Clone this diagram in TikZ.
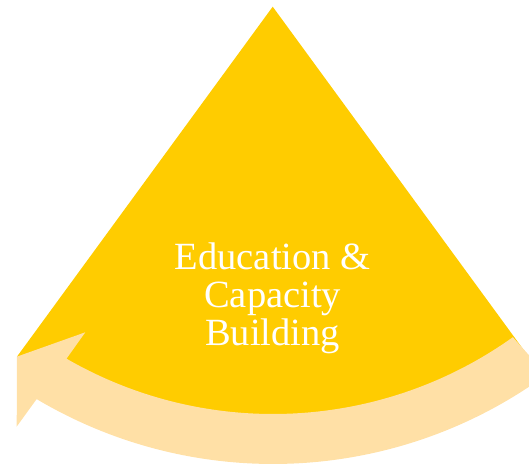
\documentclass[tikz,border=0pt]{standalone}
\usepackage{fontspec}
\setmainfont{Liberation Serif}
\usepackage{tikz}
\usepackage{color}
\definecolor{gold}{HTML}{FFCC00}
\definecolor{paleorange}{HTML}{FFE0A6}

\begin{document}
\begin{tikzpicture}[x=1pt,y=1pt]
    \useasboundingbox (0,0) rectangle (529,466);
    \clip (0,0) rectangle (529,466);
    \coordinate (c) at (273,465);
    \coordinate (apex) at (272.7,459.3);
    \coordinate (tip) at (17,109.4);
    \coordinate (barbup) at (85.3,133.7);
    \coordinate (barbdown) at (16.7,39.4);

    \fill[gold] (apex) -- ([shift={(234.25:438)}]c) arc[start angle=234.25, end angle=305.7, radius=438] -- cycle;
    \fill[paleorange] ([shift={(240:413)}]c) arc[start angle=240, end angle=305.5, radius=413]
        -- ([shift={(306.2:463)}]c) arc[start angle=306.2, end angle=239.3, radius=463]
        -- (barbdown) -- (tip) -- (barbup) -- cycle;

    \node[text=white, align=center, inner sep=0pt, font=\fontsize{38.5}{38}\selectfont] (edu) at (272.7,167.5) {Education \&\\Capacity\\Building};
\end{tikzpicture}
\end{document}
